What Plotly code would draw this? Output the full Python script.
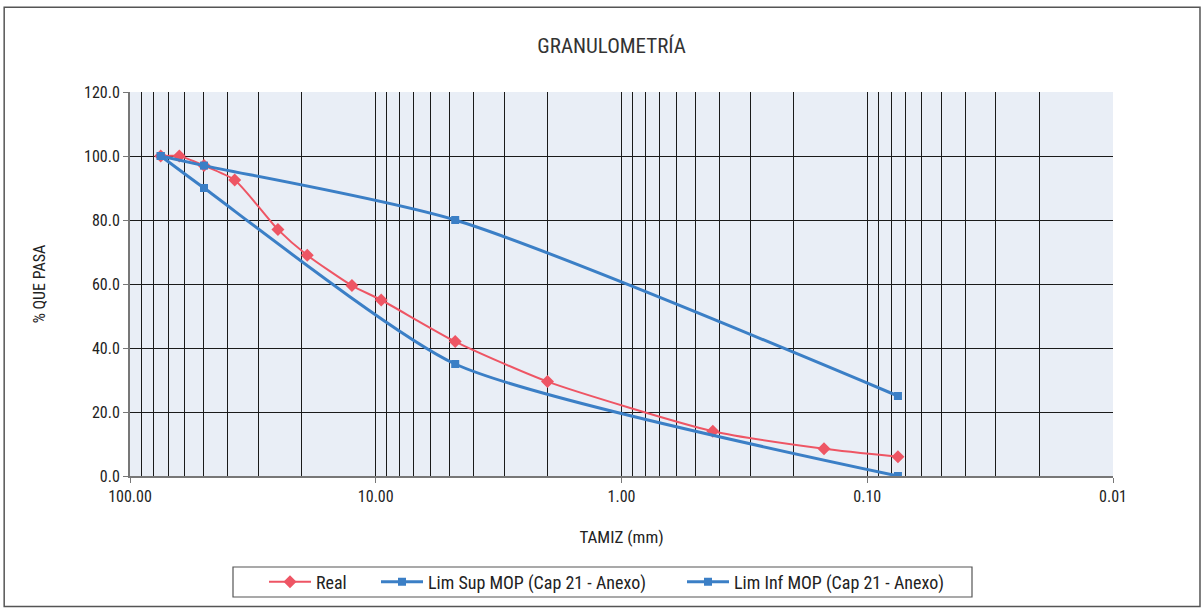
import numpy as np
import plotly.graph_objects as go

# Sieve sizes (mm)
real_size = [75, 63, 50, 37.5, 25, 19, 12.5, 9.5, 4.75, 2.0, 0.425, 0.15, 0.075]
real_pass = [100, 100, 97, 92.5, 77, 69, 59.5, 55, 42, 29.5, 14, 8.5, 6]

sup_size = [75, 50, 4.75, 0.075]
sup_pass = [100, 97, 80, 25]

inf_size = [75, 50, 4.75, 0.075]
inf_pass = [100, 90, 35, 0]

x_tickvals = [100, 10, 1, 0.1, 0.01]
x_ticktext = ["100.00", "10.00", "1.00", "0.10", "0.01"]
y_tickvals = [0, 20, 40, 60, 80, 100, 120]
y_ticktext = ["0.0", "20.0", "40.0", "60.0", "80.0", "100.0", "120.0"]

FONT = "Liberation Sans Narrow, Arial Narrow, Roboto Condensed, Liberation Sans, sans-serif"
RED = "#ee5564"
BLUE = "#3b7fc6"

minor_vals = [m * 10.0 ** e for e in range(-2, 2) for m in range(2, 10)]

fig = go.Figure()
fig.add_trace(go.Scatter(x=real_size, y=real_pass, name="Real", mode="lines+markers",
                         line=dict(color=RED, width=2, shape="spline", smoothing=0.6),
                         marker=dict(symbol="diamond", size=10, color=RED), legend="legend"))
fig.add_trace(go.Scatter(x=sup_size, y=sup_pass, name="Lim Sup MOP (Cap 21 - Anexo)", mode="lines+markers",
                         line=dict(color=BLUE, width=3, shape="spline", smoothing=0.7),
                         marker=dict(symbol="square", size=8, color=BLUE), legend="legend2"))
fig.add_trace(go.Scatter(x=inf_size, y=inf_pass, name="Lim Inf MOP (Cap 21 - Anexo)", mode="lines+markers",
                         line=dict(color=BLUE, width=3, shape="spline", smoothing=0.6),
                         marker=dict(symbol="square", size=8, color=BLUE), legend="legend3"))

leg_common = dict(orientation="h", xanchor="left", yref="container", y=(609 - 582) / 609, yanchor="middle",
                  font=dict(family=FONT, size=18, color="#222222"), itemwidth=42,
                  bgcolor="rgba(0,0,0,0)", borderwidth=0)

fig.update_layout(
    width=1204, height=609,
    margin=dict(l=130, r=91, t=92, b=133),
    paper_bgcolor="white",
    plot_bgcolor="#e9eef6",
    font=dict(family=FONT, color="#222222", size=14),
    title=dict(text="GRANULOMETRÍA", x=0.508, xanchor="center", y=0.925, yanchor="middle",
               font=dict(family=FONT, size=21, color="#333333")),
    showlegend=True,
    legend=dict(x=(264 - 130) / 983, **leg_common),
    legend2=dict(x=(376 - 130) / 983, **leg_common),
    legend3=dict(x=(682 - 130) / 983, **leg_common),
    xaxis=dict(type="log", range=[2, -2], tickvals=x_tickvals, ticktext=x_ticktext,
               showgrid=True, gridcolor="#1a1a1a", gridwidth=1, automargin=False,
               minor=dict(tickvals=minor_vals, showgrid=True, gridcolor="#1a1a1a", gridwidth=1),
               showline=True, linecolor="#777777", linewidth=2, ticks="outside", ticklen=5,
               tickcolor="#777777", zeroline=False,
               tickfont=dict(family=FONT, size=16),
               title=dict(text="TAMIZ (mm)", font=dict(family=FONT, size=17), standoff=26)),
    yaxis=dict(range=[0, 120], tickvals=y_tickvals, ticktext=y_ticktext,
               showgrid=True, gridcolor="#1a1a1a", gridwidth=1, automargin=False,
               showline=True, linecolor="#777777", linewidth=2, ticks="outside", ticklen=5,
               tickcolor="#777777", zeroline=False,
               tickfont=dict(family=FONT, size=16),
               title=dict(text="% QUE PASA", font=dict(family=FONT, size=16), standoff=34)),
    shapes=[
        dict(type="rect", xref="paper", yref="paper", x0=-0.128, x1=1.0885, y0=-0.34, y1=1.221,
             line=dict(color="#555555", width=1.5), layer="below"),
        dict(type="rect", xref="paper", yref="paper", x0=(233 - 130) / 983, x1=(972 - 130) / 983,
             y0=(476 - 597) / 384, y1=(476 - 567) / 384, line=dict(color="#555555", width=1.2)),
    ],
)

fig.write_html("out.html", config={"displayModeBar": False},
               post_script="document.body.style.margin='0';document.body.style.overflow='hidden';")
